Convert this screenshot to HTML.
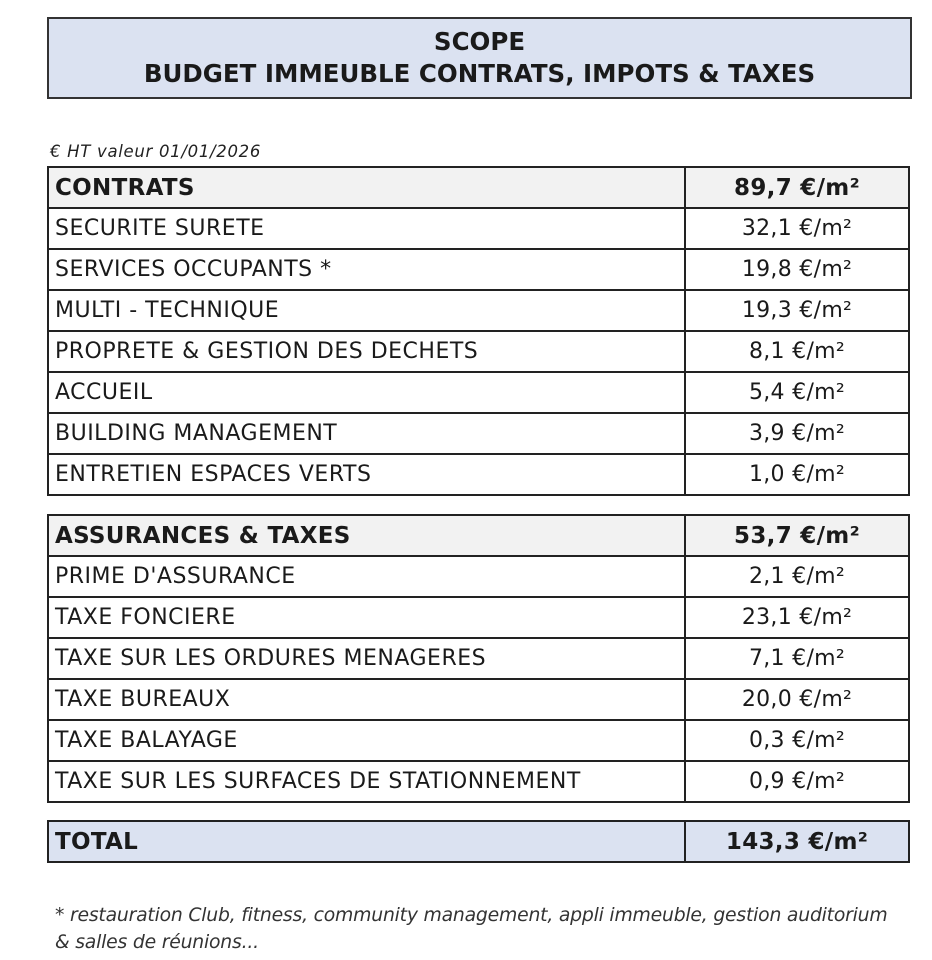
<!DOCTYPE html>
<html><head><meta charset="utf-8"><style>
body{margin:0;width:932px;height:960px;background:#fff;position:relative;font-family:"DejaVu Sans","Liberation Sans",sans-serif;color:#1a1a1a;overflow:hidden}
.title{position:absolute;left:47px;top:17px;width:861px;border:2px solid #333;background:#dbe2f1;text-align:center;font-weight:bold;font-size:24.5px;line-height:32px;padding-top:7px;height:71px}
.note{position:absolute;left:50px;top:142px;font-style:italic;font-size:16.5px;color:#222;letter-spacing:0.7px}
table{position:absolute;left:47px;width:863px;border-collapse:collapse;table-layout:fixed}
td{border:2px solid #222;height:41px;padding:0 0 0 6px;font-size:22px;letter-spacing:0.5px;white-space:nowrap;overflow:hidden;box-sizing:border-box}
td.v{text-align:center;padding:0;width:224px;letter-spacing:0.3px}
tr.h td{background:#f2f2f2;font-weight:bold;font-size:23px;letter-spacing:0.3px}
tr.t td{background:#dbe2f1;font-weight:bold;font-size:23px;letter-spacing:0.3px}
.foot{position:absolute;left:55px;top:902px;font-style:italic;font-size:18.8px;line-height:27px;color:#333;letter-spacing:-0.2px}
</style></head><body>
<div class="title">SCOPE<br>BUDGET IMMEUBLE CONTRATS, IMPOTS &amp; TAXES</div>
<div class="note">€ HT valeur 01/01/2026</div>
<table style="top:166px">
<tr class="h"><td>CONTRATS</td><td class="v">89,7 €/m²</td></tr>
<tr><td>SECURITE SURETE</td><td class="v">32,1 €/m²</td></tr>
<tr><td>SERVICES OCCUPANTS *</td><td class="v">19,8 €/m²</td></tr>
<tr><td>MULTI - TECHNIQUE</td><td class="v">19,3 €/m²</td></tr>
<tr><td>PROPRETE &amp; GESTION DES DECHETS</td><td class="v">8,1 €/m²</td></tr>
<tr><td>ACCUEIL</td><td class="v">5,4 €/m²</td></tr>
<tr><td>BUILDING MANAGEMENT</td><td class="v">3,9 €/m²</td></tr>
<tr><td>ENTRETIEN ESPACES VERTS</td><td class="v">1,0 €/m²</td></tr>
</table>
<table style="top:514px">
<tr class="h"><td>ASSURANCES &amp; TAXES</td><td class="v">53,7 €/m²</td></tr>
<tr><td>PRIME D'ASSURANCE</td><td class="v">2,1 €/m²</td></tr>
<tr><td>TAXE FONCIERE</td><td class="v">23,1 €/m²</td></tr>
<tr><td>TAXE SUR LES ORDURES MENAGERES</td><td class="v">7,1 €/m²</td></tr>
<tr><td>TAXE BUREAUX</td><td class="v">20,0 €/m²</td></tr>
<tr><td>TAXE BALAYAGE</td><td class="v">0,3 €/m²</td></tr>
<tr><td>TAXE SUR LES SURFACES DE STATIONNEMENT</td><td class="v">0,9 €/m²</td></tr>
</table>
<table style="top:820px">
<tr class="t"><td>TOTAL</td><td class="v">143,3 €/m²</td></tr>
</table>
<div class="foot">* restauration Club, fitness, community management, appli immeuble, gestion auditorium<br>&amp; salles de réunions...</div>
</body></html>
